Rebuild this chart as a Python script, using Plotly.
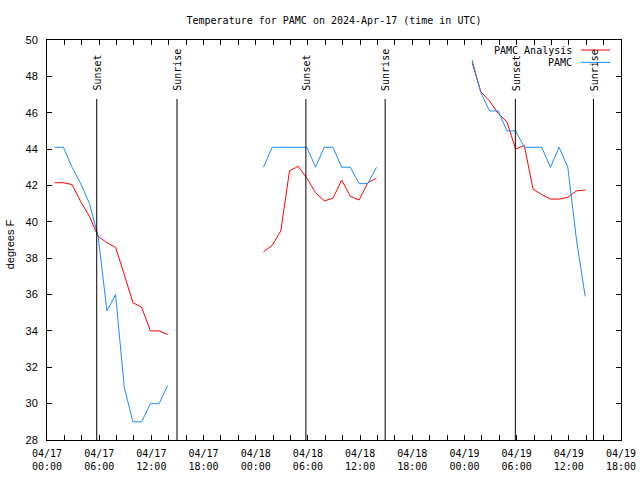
import plotly.graph_objects as go

# ---- data ----
seg1_times = ["2024-04-17 %02d:53" % h for h in range(0, 14)]
seg2_times = ["2024-04-18 %02d:53" % h for h in range(0, 14)]
seg3_times = ["2024-04-19 %02d:53" % h for h in range(0, 14)]

pamc_seg1 = [44.1, 44.1, 43.0, 42.1, 41.0, 39.2, 35.1, 36.0, 30.9, 29.0, 29.0, 30.0, 30.0, 31.0]
pamc_seg2 = [43.0, 44.1, 44.1, 44.1, 44.1, 44.1, 43.0, 44.1, 44.1, 43.0, 43.0, 42.1, 42.1, 43.0]
pamc_seg3 = [48.9, 47.1, 46.1, 46.1, 45.0, 45.0, 44.1, 44.1, 44.1, 43.0, 44.1, 43.0, 39.0, 35.9]

anl_seg1 = [42.15, 42.15, 42.05, 41.1, 40.3, 39.2, 38.85, 38.6, 37.1, 35.55, 35.3, 34.0, 34.0, 33.8]
anl_seg2 = [38.35, 38.7, 39.5, 42.8, 43.05, 42.4, 41.6, 41.15, 41.3, 42.3, 41.4, 41.2, 42.15, 42.4]
anl_seg3 = [48.75, 47.15, 46.65, 45.95, 45.5, 44.0, 44.2, 41.8, 41.5, 41.25, 41.25, 41.35, 41.7, 41.75]

sun_times = ["2024-04-17 05:43", "2024-04-17 14:57", "2024-04-18 05:46",
             "2024-04-18 14:53", "2024-04-19 05:51", "2024-04-19 14:50"]
sun_labels = ["Sunset", "Sunrise", "Sunset", "Sunrise", "Sunset", "Sunrise"]

tick_vals = ["2024-04-17 00:00", "2024-04-17 06:00", "2024-04-17 12:00", "2024-04-17 18:00",
             "2024-04-18 00:00", "2024-04-18 06:00", "2024-04-18 12:00", "2024-04-18 18:00",
             "2024-04-19 00:00", "2024-04-19 06:00", "2024-04-19 12:00", "2024-04-19 18:00"]
tick_text = ["04/17<br>00:00", "04/17<br>06:00", "04/17<br>12:00", "04/17<br>18:00",
             "04/18<br>00:00", "04/18<br>06:00", "04/18<br>12:00", "04/18<br>18:00",
             "04/19<br>00:00", "04/19<br>06:00", "04/19<br>12:00", "04/19<br>18:00"]

title_text = "Temperature for PAMC on 2024-Apr-17 (time in UTC)"
series_names = ["PAMC Analysis", "PAMC"]

RED = "#ff0000"
BLUE = "#1a8cff"
MONO = "DejaVu Sans Mono"

def join(a, b, c):
    return list(a) + [None] + list(b) + [None] + list(c)

times = join(seg1_times, seg2_times, seg3_times)
anl = join(anl_seg1, anl_seg2, anl_seg3)
obs = join(pamc_seg1, pamc_seg2, pamc_seg3)

fig = go.Figure()
fig.add_trace(go.Scatter(x=times, y=anl, mode="lines", name=series_names[0],
                         line=dict(color=RED, width=1), showlegend=False))
fig.add_trace(go.Scatter(x=times, y=obs, mode="lines", name=series_names[1],
                         line=dict(color=BLUE, width=1), showlegend=False))

# sunrise / sunset lines
for t, lab in zip(sun_times, sun_labels):
    fig.add_shape(type="line", xref="x", yref="paper", x0=t, x1=t, y0=0, y1=0.8525,
                  line=dict(color="black", width=1))
    fig.add_annotation(x=t, xref="x", y=0.868, yref="paper", text=lab, textangle=-90,
                       showarrow=False, xanchor="center", yanchor="bottom", xshift=1,
                       font=dict(family=MONO, size=10, color="black"))

# manual legend (text right, line sample after text)
leg_y = [0.975, 0.944]
leg_col = [RED, BLUE]
for name, yy, col in zip(series_names, leg_y, leg_col):
    fig.add_annotation(x=0.918, xref="paper", y=yy, yref="paper", text=name,
                       showarrow=False, xanchor="right", yanchor="middle",
                       font=dict(family=MONO, size=10, color="black"))
    fig.add_shape(type="line", xref="paper", yref="paper", x0=0.930, x1=0.981,
                  y0=yy, y1=yy, line=dict(color=col, width=1))

# y axis title
fig.add_annotation(x=-0.064, xref="paper", y=0.49, yref="paper", text="degrees F",
                   textangle=-90, showarrow=False, xanchor="center", yanchor="middle",
                   font=dict(family="Liberation Sans", size=11, color="black"))

fig.update_layout(
    width=640, height=480, autosize=False,
    margin=dict(l=47, r=19, t=40, b=40, pad=0),
    paper_bgcolor="white", plot_bgcolor="white",
    title=dict(text=title_text, x=0.5, xref="paper", xanchor="center",
               y=1 - 20.7 / 480, yanchor="middle", yref="container",
               font=dict(family=MONO, size=10, color="black")),
    showlegend=False,
)
fig.update_xaxes(
    type="date", range=["2024-04-17 00:00", "2024-04-19 18:00"],
    tickmode="array", tickvals=tick_vals, ticktext=tick_text,
    ticks="inside", ticklen=5, tickcolor="black",
    minor=dict(dtick=2 * 3600 * 1000, tick0="2024-04-17 00:00", ticks="inside",
               ticklen=5, tickcolor="black", showgrid=False),
    showline=True, linecolor="black", linewidth=1, mirror="allticks",
    showgrid=False, zeroline=False, automargin=False,
    tickfont=dict(family=MONO, size=10, color="black"),
    ticklabelstandoff=4,
)
fig.update_yaxes(
    range=[28, 50], dtick=2, tick0=28,
    ticks="inside", ticklen=5, tickcolor="black",
    showline=True, linecolor="black", linewidth=1, mirror="allticks",
    showgrid=False, zeroline=False, automargin=False,
    tickfont=dict(family="Liberation Sans", size=11, color="black"),
    ticklabelstandoff=6,
)

fig.write_html(
    "out.html",
    config={"displayModeBar": False, "responsive": False},
    post_script="document.body.style.margin='0';document.documentElement.style.overflow='hidden';",
)
